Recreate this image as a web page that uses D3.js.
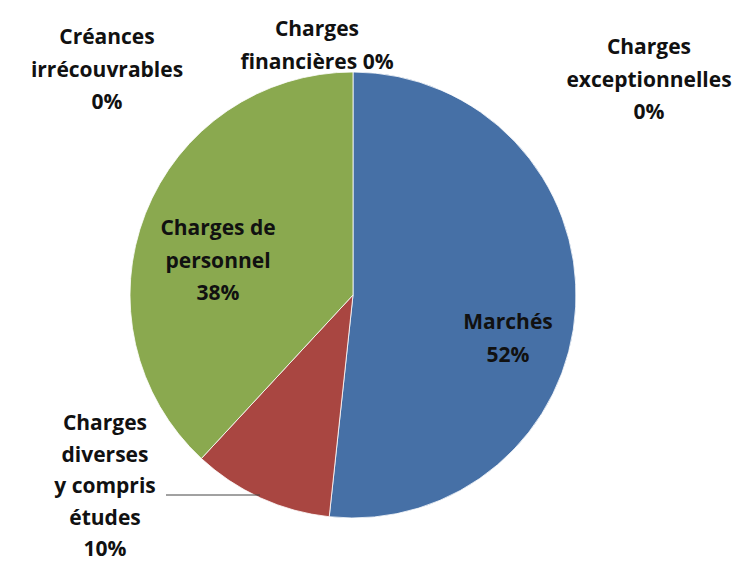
<!DOCTYPE html>
<html lang="fr">
<head>
<meta charset="utf-8">
<title>Répartition des charges</title>
<style>
  body { margin: 0; background: #fff; }
  svg { display: block; }
  .lbl { font-family: "Open Sans", Lato, sans-serif; font-weight: bold; font-size: 21px; fill: #111; }
</style>
</head>
<body>
<svg width="737" height="565"></svg>
<script src="https://cdn.jsdelivr.net/npm/d3@7"></script>
<script>
  // data (percent), Excel order: clockwise from 12 o'clock
  const categories = ["Marchés", "Charges diverses y compris études", "Charges de personnel",
                      "Créances irrécouvrables", "Charges financières", "Charges exceptionnelles"];
  const values = [51.7, 10.2, 38.1, 0, 0, 0];
  const colors = ["#4670a6", "#a94641", "#8aa94f", "#7f63a0", "#3f9cb6", "#e0893c"];

  // label text split into lines, the percent is appended
  const labelLines = [
    ["Marchés"],
    ["Charges", "diverses", "y compris", "études"],
    ["Charges de", "personnel"],
    ["Créances", "irrécouvrables"],
    ["Charges", "financières"],
    ["Charges", "exceptionnelles"]
  ];

  // label placement (layout only): centre of the first line, relative to pie centre
  const labelLayout = [
    {dx: 155, dy: 27, lh: 32.3, inline: false},
    {dx: -248, dy: 128, lh: 31.5, inline: false},
    {dx: -135, dy: -67, lh: 32.3, inline: false},
    {dx: -246, dy: -258, lh: 32.3, inline: false},
    {dx: -36, dy: -266, lh: 32.3, inline: true},
    {dx: 296, dy: -248, lh: 32.3, inline: false}
  ];

  const svg = d3.select("svg");
  const cx = 353, cy = 295, r = 223;

  const g = svg.append("g").attr("transform", `translate(${cx},${cy})`);

  const pie = d3.pie().sort(null).value(d => d);
  const arcs = pie(values);
  const arc = d3.arc().innerRadius(0).outerRadius(r);

  g.selectAll("path.slice")
    .data(arcs.filter(d => d.data > 0))
    .enter().append("path")
    .attr("class", "slice")
    .attr("d", arc)
    .attr("fill", d => colors[d.index])
    .attr("stroke", "#fff")
    .attr("stroke-width", 0.8);

  // leader line for the small red slice
  g.append("line")
    .attr("x1", labelLayout[1].dx + 61).attr("y1", 200)
    .attr("x2", -93).attr("y2", 200)
    .attr("stroke", "#444").attr("stroke-width", 1);

  arcs.forEach((a, i) => {
    const lay = labelLayout[i];
    const pct = Math.round(values[i]) + "%";
    let lines = labelLines[i].slice();
    if (lay.inline) lines[lines.length - 1] += " " + pct;
    else lines.push(pct);
    const t = g.append("text").attr("class", "lbl")
      .attr("text-anchor", "middle")
      .attr("transform", `translate(${lay.dx},${lay.dy})`);
    lines.forEach((s, k) => {
      t.append("tspan").attr("x", 0).attr("y", k * lay.lh).attr("dy", "0.35em").text(s);
    });
  });
</script>
</body>
</html>
